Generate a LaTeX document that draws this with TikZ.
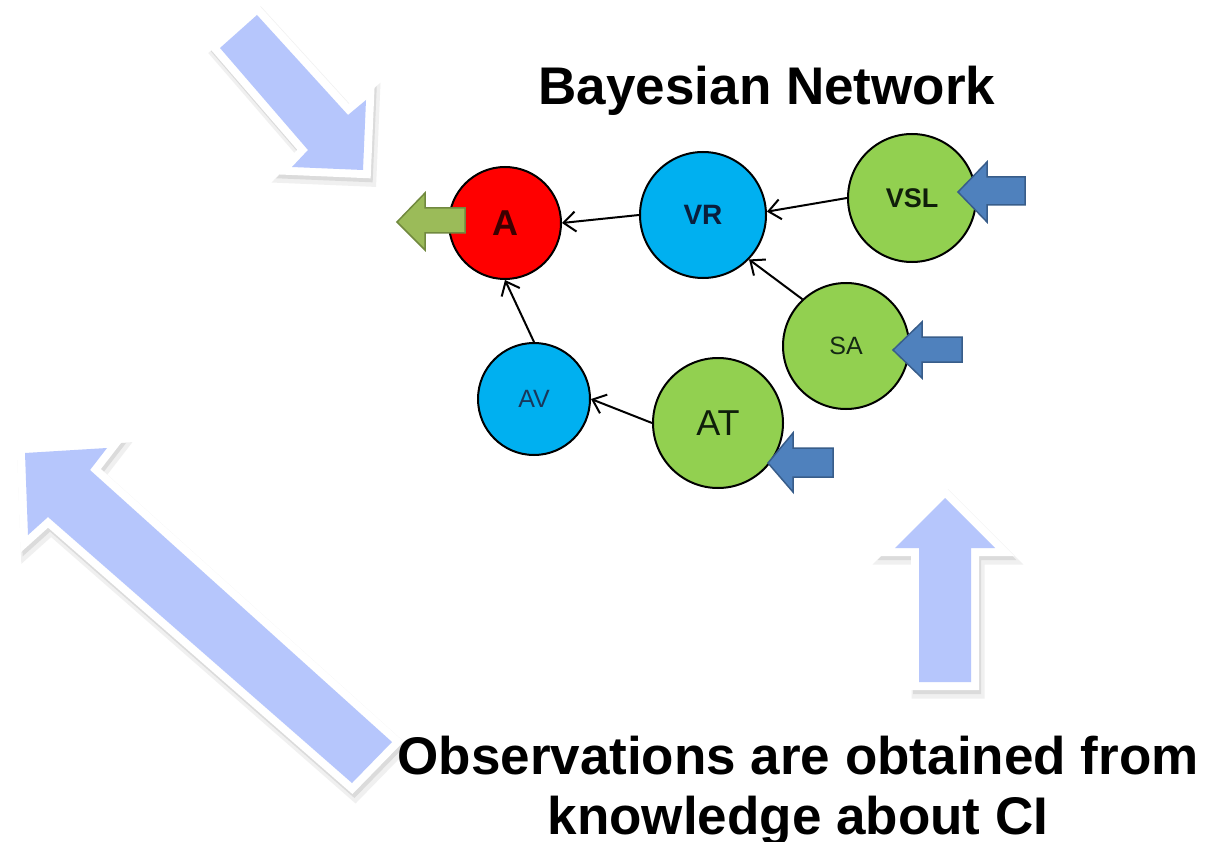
\documentclass[tikz,border=0pt]{standalone}
\usepackage{fontspec}
\setmainfont{Liberation Sans}
\usetikzlibrary{arrows.meta}

\definecolor{bigblue}{RGB}{182,198,252}
\definecolor{nodered}{RGB}{255,0,0}
\definecolor{nodeblue}{RGB}{0,176,240}
\definecolor{nodegreen}{RGB}{146,208,80}
\definecolor{inblue}{RGB}{79,129,189}
\definecolor{inblueedge}{RGB}{56,93,138}
\definecolor{outgreen}{RGB}{155,187,89}
\definecolor{outgreenedge}{RGB}{113,137,63}

\tikzset{
  bn/.style={circle, draw=black, line width=2pt, inner sep=0pt},
  rel/.style={line width=2pt, -{Straight Barb[length=12pt,width=20pt,line width=2pt]}},
  inarrow/.style={fill=inblue, draw=inblueedge, line width=1.5pt, line join=miter},
  outarrow/.style={fill=outgreen, draw=outgreenedge, line width=1.5pt, line join=miter},
  bigshadowA/.style={draw=black!6, fill=black!6, line width=21pt, line join=miter},
  bigshadowB/.style={draw=black!14, fill=black!14, line width=16pt, line join=miter},
  bigrim/.style={draw=white, line width=16pt, line join=miter},
  bigfill/.style={fill=bigblue},
}

% a left-pointing block arrow: tip x, tip y, head back x, head top, head bottom,
% shaft top, shaft bottom, tail x
\newcommand{\blockarrow}[9]{%
  \draw[#1] (#2,#3) -- (#4,#5) -- (#4,#7) -- (#9,#7) -- (#9,#8) -- (#4,#8) -- (#4,#6) -- cycle;}

% a big outlined arrow with a soft drop shadow
\newcommand{\bigarrow}[1]{%
  \draw[bigshadowA, shift={(3,6)}] #1;
  \draw[bigshadowB, shift={(2,4)}] #1;
  \draw[bigrim] #1;
  \fill[bigfill] #1;}

\begin{document}
\begin{tikzpicture}[x=1pt, y=-1pt]
\useasboundingbox (0,0) rectangle (1212,842);
\fill[white] (0,0) rectangle (1212,842);

% big pointer arrows
\bigarrow{(220,48) -- (257,15) -- (348,115) -- (366,100) -- (363,170) -- (292,167) -- (308,150) -- cycle}
\bigarrow{(25,453) -- (107,448) -- (90,470) -- (392,742) -- (352,783) -- (48,517) -- (28,535) -- cycle}
\bigarrow{(945,498) -- (995,548) -- (971,548) -- (971,682) -- (919,682) -- (919,548) -- (895,548) -- cycle}

% title
\node[anchor=base, font=\fontsize{53}{60}\selectfont\bfseries, inner sep=0pt] (title) at (767,105) {Bayesian Network};

% network nodes
\node[bn, fill=nodered, minimum size=112pt, font=\fontsize{36}{40}\selectfont\bfseries, text={rgb,255:red,60;green,0;blue,0}] (A) at (505,223) {A};
\node[bn, fill=nodeblue, minimum size=126pt, font=\fontsize{28}{32}\selectfont\bfseries, text={rgb,255:red,10;green,30;blue,60}] (VR) at (703,215) {VR};
\node[bn, fill=nodegreen, minimum size=128pt, font=\fontsize{27}{32}\selectfont\bfseries, text={rgb,255:red,15;green,30;blue,10}] (VSL) at (912,198) {VSL};
\node[bn, fill=nodegreen, minimum size=126pt, font=\fontsize{25}{30}\selectfont, text={rgb,255:red,20;green,40;blue,20}] (SA) at (846,346) {SA};
\node[bn, fill=nodeblue, minimum size=112pt, font=\fontsize{25}{30}\selectfont, text={rgb,255:red,25;green,55;blue,90}] (AV) at (534,399) {AV};
\node[bn, fill=nodegreen, minimum size=130pt, font=\fontsize{36}{40}\selectfont, text={rgb,255:red,15;green,30;blue,10}] (AT) at (718,423) {AT};

% dependencies
\draw[rel] (VR.west) -- (A.east);
\draw[rel] (VSL.west) -- (VR.3);
\draw[rel] (SA.133) -- (VR.-44);
\draw[rel] (AV.north) -- (A.south);
\draw[rel] (AT.west) -- (AV.east);

% evidence entering the observed nodes
\blockarrow{inarrow}{958}{192}{987}{162}{222}{177}{205}{1025}
\blockarrow{inarrow}{893}{350}{922}{322}{378}{337}{362}{962}
\blockarrow{inarrow}{768}{463}{793}{433}{492}{448}{477}{833}
% query output from A
\blockarrow{outarrow}{397}{222}{425}{193}{250}{208}{233}{465}

% caption
\node[anchor=north, align=center, inner sep=0pt, font=\fontsize{53}{60}\selectfont\bfseries] (caption) at (798,736)
  {Observations are obtained from\\knowledge about CI};
\end{tikzpicture}
\end{document}
